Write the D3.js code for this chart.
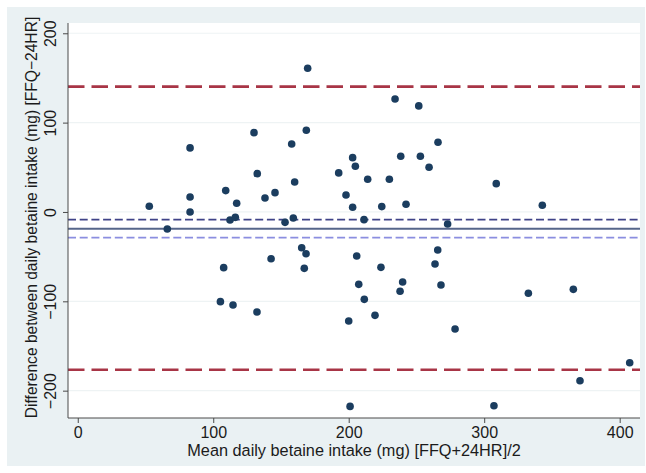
<!DOCTYPE html>
<html>
<head>
<meta charset="utf-8">
<script src="https://cdn.jsdelivr.net/npm/d3@7"></script>
<style>
  html, body { margin: 0; padding: 0; background: #ffffff; }
  svg { display: block; }
  text { font-family: "Liberation Sans", Arial, Helvetica, sans-serif; fill: #1b1b1b; }
</style>
</head>
<body>
<svg id="chart" width="646" height="473"></svg>
<script>
// Mean of the two methods, (FFQ + 24HR) / 2, in mg
const meanIntake = [
  52.8, 66.1, 82.9, 82.9, 82.9, 109.2, 117.3, 112.4, 116.3, 130.1,
  132.5, 138.2, 145.6, 169.7, 168.7, 157.9, 160.1, 153.0, 159.1, 192.6,
  198.0, 202.9, 204.9, 202.9, 211.3, 214.0, 224.4, 230.0, 234.2, 251.7,
  238.4, 242.3, 252.9, 259.3, 265.9, 273.0, 308.9, 342.9, 107.7, 105.3,
  114.6, 132.3, 142.7, 165.3, 168.5, 167.2, 205.9, 207.4, 211.5, 200.0,
  223.8, 219.4, 239.8, 237.9, 265.7, 263.7, 268.1, 278.5, 332.6, 365.8,
  407.4, 370.7, 201.0, 307.2
];
// Difference between the two methods, FFQ − 24HR, in mg
const diffIntake = [
  6.4, -19.0, 71.7, 16.8, 0.0, 23.9, 9.7, -9.0, -6.0, 88.8,
  42.9, 15.7, 21.6, 160.9, 91.5, 76.1, 33.6, -11.6, -6.7, 43.7,
  19.0, 60.8, 51.2, 5.2, -8.6, 36.6, 6.0, 36.6, 126.5, 118.7,
  62.3, 8.6, 62.3, 50.0, 78.0, -13.4, 31.7, 7.5, -62.3, -100.4,
  -104.1, -112.0, -52.3, -40.0, -46.7, -63.1, -49.3, -81.0, -97.8, -122.0,
  -62.0, -115.7, -78.4, -88.8, -42.6, -58.2, -81.7, -131.0, -91.0, -86.6,
  -168.7, -188.9, -217.6, -216.9
];

// Reference lines: mean difference, its band, and limits of agreement
const meanDiff = -18.7;
const meanBand = [-8.6, -28.8];
const agreementLimits = [140.3, -176.6];

const xTicks = [0, 100, 200, 300, 400];
const yTicks = [-200, -100, 0, 100, 200];
const xTitle = "Mean daily betaine intake (mg) [FFQ+24HR]/2";
const yTitle = "Difference between daily betaine intake (mg) [FFQ\u221224HR]";

const svg = d3.select("#chart");

// Graph region and plot region
const outer = { x0: 7, y0: 7, x1: 645, y1: 466 };
const plot = { x0: 68, y0: 23, x1: 640, y1: 418 };

svg.append("rect")
  .attr("x", outer.x0).attr("y", outer.y0)
  .attr("width", outer.x1 - outer.x0).attr("height", outer.y1 - outer.y0)
  .attr("fill", "#eaf1f3");

svg.append("rect")
  .attr("x", plot.x0).attr("y", plot.y0)
  .attr("width", plot.x1 - plot.x0).attr("height", plot.y1 - plot.y0)
  .attr("fill", "#ffffff");

const x = d3.scaleLinear().domain([-7.2, 415]).range([plot.x0, plot.x1]);
const y = d3.scaleLinear().domain([-230.6, 211.5]).range([plot.y1, plot.y0]);

// Horizontal gridlines
svg.append("g").selectAll("line").data(yTicks).join("line")
  .attr("x1", plot.x0).attr("x2", plot.x1)
  .attr("y1", d => y(d)).attr("y2", d => y(d))
  .attr("stroke", "#eef3f4").attr("stroke-width", 1.2);

// Limits of agreement
svg.append("g").selectAll("line").data(agreementLimits).join("line")
  .attr("x1", plot.x0).attr("x2", plot.x1)
  .attr("y1", d => y(d)).attr("y2", d => y(d))
  .attr("stroke", "#a83546").attr("stroke-width", 2.6)
  .attr("stroke-dasharray", "16.5,7");

// Mean difference and its band
svg.append("line")
  .attr("x1", plot.x0).attr("x2", plot.x1)
  .attr("y1", y(meanDiff)).attr("y2", y(meanDiff))
  .attr("stroke", "#56668a").attr("stroke-width", 2);

svg.append("line")
  .attr("x1", plot.x0).attr("x2", plot.x1)
  .attr("y1", y(meanBand[0])).attr("y2", y(meanBand[0]))
  .attr("stroke", "#3f4388").attr("stroke-width", 1.8)
  .attr("stroke-dasharray", "8,3.7");

svg.append("line")
  .attr("x1", plot.x0).attr("x2", plot.x1)
  .attr("y1", y(meanBand[1])).attr("y2", y(meanBand[1]))
  .attr("stroke", "#8b8ee0").attr("stroke-width", 1.8)
  .attr("stroke-dasharray", "8,3.7");

// Data points
svg.append("g").selectAll("circle").data(meanIntake).join("circle")
  .attr("cx", d => x(d))
  .attr("cy", (d, i) => y(diffIntake[i]))
  .attr("r", 3.8)
  .attr("fill", "#1b3d5f");

// Axes
const xAxis = d3.axisBottom(x).tickValues(xTicks).tickSize(5).tickPadding(4).tickSizeOuter(0);
const gx = svg.append("g").attr("transform", `translate(0,${plot.y1})`).call(xAxis);
gx.select(".domain").attr("d", `M${plot.x0},0H${plot.x1}`).attr("stroke", "#4a4a4a");
gx.selectAll(".tick line").attr("stroke", "#4a4a4a");
gx.selectAll(".tick text")
  .attr("font-size", 16).attr("fill", "#1b1b1b")
  .style("font-family", "'Liberation Sans', Arial, sans-serif");

const yAxis = d3.axisLeft(y).tickValues(yTicks).tickSize(5).tickSizeOuter(0)
  .tickFormat(d => d < 0 ? "\u2212" + Math.abs(d) : String(d));
const gy = svg.append("g").attr("transform", `translate(${plot.x0},0)`).call(yAxis);
gy.select(".domain").attr("d", `M0,${plot.y0}V${plot.y1}`).attr("stroke", "#4a4a4a");
gy.selectAll(".tick line").attr("stroke", "#4a4a4a");
gy.selectAll(".tick text")
  .attr("font-size", 16).attr("fill", "#1b1b1b")
  .attr("x", null).attr("dy", null)
  .attr("text-anchor", "middle")
  .attr("transform", "translate(-12,0) rotate(-90)")
  .style("font-family", "'Liberation Sans', Arial, sans-serif");

// Axis titles
svg.append("text")
  .attr("x", (plot.x0 + plot.x1) / 2).attr("y", 456)
  .attr("text-anchor", "middle").attr("font-size", 16.3)
  .text(xTitle);

svg.append("text")
  .attr("transform", `translate(37,${(plot.y0 + plot.y1) / 2 - 3}) rotate(-90)`)
  .attr("text-anchor", "middle").attr("font-size", 15.6)
  .text(yTitle);
</script>
</body>
</html>
